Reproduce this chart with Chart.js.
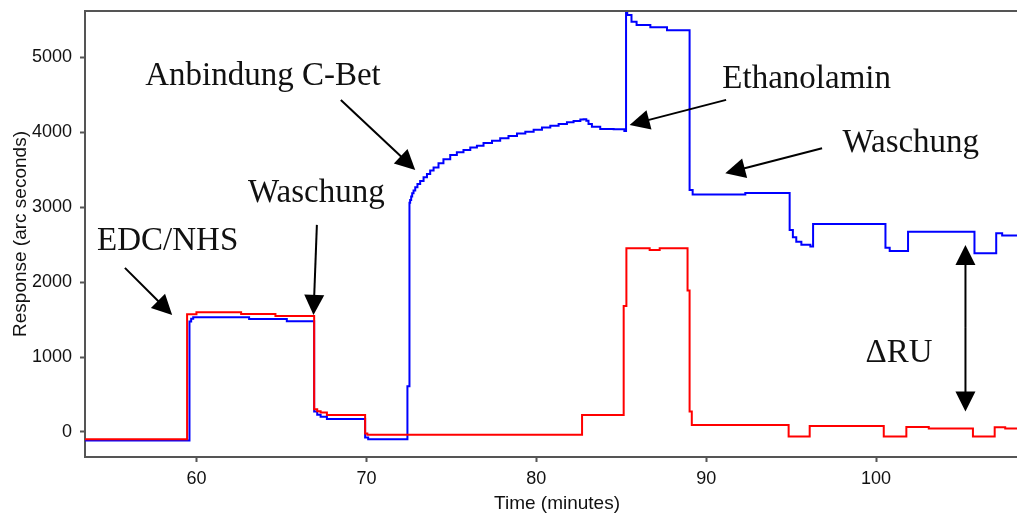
<!DOCTYPE html>
<html>
<head>
<meta charset="utf-8">
<title>Sensorgramm</title>
<script src="https://cdn.jsdelivr.net/npm/chart.js@4.4.1/dist/chart.umd.min.js"></script>
<style>
  html, body { margin: 0; padding: 0; background: #fff; overflow: hidden; }
  canvas { display: block; }
</style>
</head>
<body>
<canvas id="sensor" width="1030" height="515"></canvas>
<script>
// flow cell with immobilised C-Bet (blue), reference cell (red)
// each point: value holds from this time until the next point
const blueTime = [53.43, 59.58, 59.68, 59.8, 63.09, 65.31, 66.92, 67.1, 67.3, 67.67, 69.92, 70.1,
  72.41, 72.53, 72.57, 72.63, 72.69, 72.77, 72.87, 73.0, 73.16, 73.36, 73.56, 73.75, 73.95, 74.24,
  74.53, 74.93, 75.32, 75.71, 76.11, 76.5, 76.89, 77.39, 77.87, 78.36, 78.86, 79.35, 79.84, 80.33,
  80.82, 81.31, 81.8, 82.19, 82.59, 82.78, 82.94, 83.07, 83.27, 83.76, 84.55, 85.18,
  85.28, 85.35, 85.6, 85.9, 86.71, 87.69, 89.02, 89.2, 92.3,
  94.91, 95.1, 95.3, 95.6, 96.13, 96.29, 100.55, 100.8, 101.88, 105.79, 107.07, 107.42, 109];
const blueResp = [-116, 1473, 1510, 1531, 1509, 1478, 271, 230, 204, 174, -75, -98,
  610, 3060, 3097, 3142, 3187, 3222, 3267, 3311, 3351, 3400, 3445, 3489, 3529, 3587,
  3641, 3698, 3734, 3765, 3796, 3822, 3858, 3889, 3921, 3952, 3983, 4009, 4036, 4063,
  4089, 4112, 4135, 4152, 4170, 4175, 4156, 4112, 4076, 4045, 4041, 4019,
  5620, 5567, 5478, 5434, 5403, 5362, 3231, 3170, 3190,
  2697, 2600, 2540, 2500, 2474, 2777, 2460, 2417, 2674, 2386, 2652, 2621, 2621];

const redTime = [53.43, 59.44, 59.99, 62.62, 64.64, 66.92, 67.1, 67.3, 67.67, 69.92, 70.05,
  82.69, 85.14, 85.3, 86.67, 87.26, 88.9, 89.02, 89.15, 94.85, 96.09, 100.45, 101.78,
  103.1, 105.7, 106.98, 107.6, 109];
const redResp = [-98, 1572, 1598, 1575, 1549, 303, 275, 258, 227, -20, -38,
  227, 1682, 2452, 2430, 2452, 1887, 271, 93, -62, 80, -62, 67,
  45, -62, 62, 45, 45];

const xTicks = [60, 70, 80, 90, 100];
const yTicks = [0, 1000, 2000, 3000, 4000, 5000];

// labels and arrows, in minutes / response units
const notes = [
  { text: 'Anbindung C-Bet', t: 56.97, r: 4633 },
  { text: 'Ethanolamin', t: 90.95, r: 4593 },
  { text: 'Waschung', t: 98.02, r: 3738 },
  { text: 'Waschung', t: 63.03, r: 3071 },
  { text: 'EDC/NHS', t: 54.14, r: 2430 },
  { text: '\u0394RU', t: 99.37, r: 935 }
];
const arrows = [
  { from: [55.78, 2190], to: [58.56, 1562] },
  { from: [67.08, 2764], to: [66.88, 1562] },
  { from: [68.49, 4433], to: [72.87, 3498] },
  { from: [91.17, 4433], to: [85.49, 4099] },
  { from: [96.82, 3788], to: [91.12, 3454] },
  { from: [105.26, 1400], to: [105.26, 2497], both: [105.26, 271] }
];

function toPoints(ts, vs) {
  var pts = [];
  for (var i = 0; i < ts.length; i++) pts.push({ x: ts[i], y: vs[i] });
  return pts;
}

function head(ctx, x0, y0, x1, y1) {
  var a = Math.atan2(y1 - y0, x1 - x0);
  var len = 20, half = 10;
  ctx.beginPath();
  ctx.moveTo(x1, y1);
  ctx.lineTo(x1 - len * Math.cos(a) + half * Math.sin(a), y1 - len * Math.sin(a) - half * Math.cos(a));
  ctx.lineTo(x1 - len * Math.cos(a) - half * Math.sin(a), y1 - len * Math.sin(a) + half * Math.cos(a));
  ctx.closePath();
  ctx.fill();
}

function shaft(ctx, x0, y0, x1, y1) {
  var a = Math.atan2(y1 - y0, x1 - x0);
  ctx.beginPath();
  ctx.moveTo(x0, y0);
  ctx.lineTo(x1 - 18 * Math.cos(a), y1 - 18 * Math.sin(a));
  ctx.stroke();
}

const notesPlugin = {
  id: 'notes',
  afterDraw(chart) {
    const ctx = chart.ctx, xs = chart.scales.x, ys = chart.scales.y, area = chart.chartArea;
    ctx.save();
    // top frame line
    ctx.strokeStyle = '#555';
    ctx.lineWidth = 2;
    ctx.beginPath();
    ctx.moveTo(area.left - 1, area.top);
    ctx.lineTo(chart.width, area.top);
    ctx.stroke();

    ctx.fillStyle = '#111';
    ctx.font = '33px "Liberation Serif", serif';
    ctx.textAlign = 'left';
    ctx.textBaseline = 'alphabetic';
    notes.forEach(function (n) {
      ctx.fillText(n.text, xs.getPixelForValue(n.t), ys.getPixelForValue(n.r));
    });

    ctx.strokeStyle = '#000';
    ctx.fillStyle = '#000';
    ctx.lineWidth = 2;
    arrows.forEach(function (ar) {
      var x0 = xs.getPixelForValue(ar.from[0]), y0 = ys.getPixelForValue(ar.from[1]);
      var x1 = xs.getPixelForValue(ar.to[0]), y1 = ys.getPixelForValue(ar.to[1]);
      shaft(ctx, x0, y0, x1, y1);
      head(ctx, x0, y0, x1, y1);
      if (ar.both) {
        var x2 = xs.getPixelForValue(ar.both[0]), y2 = ys.getPixelForValue(ar.both[1]);
        shaft(ctx, x0, y0, x2, y2);
        head(ctx, x0, y0, x2, y2);
      }
    });
    ctx.restore();
  }
};

const tickFont = { family: '"Liberation Sans", Arial, sans-serif', size: 18 };
const titleFont = { family: '"Liberation Sans", Arial, sans-serif', size: 19 };

new Chart(document.getElementById('sensor'), {
  type: 'line',
  data: {
    datasets: [{
      label: 'Referenz',
      data: toPoints(redTime, redResp),
      borderColor: '#ff0000',
      borderWidth: 2,
      pointRadius: 0,
      stepped: true,
      fill: false
    }, {
      label: 'C-Bet',
      data: toPoints(blueTime, blueResp),
      borderColor: '#0000ff',
      borderWidth: 2,
      pointRadius: 0,
      stepped: true,
      fill: false
    }]
  },
  options: {
    responsive: false,
    animation: false,
    devicePixelRatio: 1,
    layout: { padding: { top: 11, right: 1, left: 0, bottom: 0 } },
    plugins: { legend: { display: false }, tooltip: { enabled: false } },
    scales: {
      x: {
        type: 'linear',
        min: 53.43,
        max: 109,
        afterBuildTicks: function (s) { s.ticks = xTicks.map(function (v) { return { value: v }; }); },
        afterFit: function (s) { s.height = 58; s.paddingLeft = 0; s.paddingRight = 0; },
        border: { display: true, color: '#555', width: 2 },
        grid: { drawOnChartArea: false, tickLength: 5, tickColor: '#555', tickWidth: 2 },
        ticks: { color: '#111', font: tickFont, padding: 6, maxRotation: 0, autoSkip: false },
        title: { display: true, text: 'Time (minutes)', color: '#111', font: titleFont, padding: { top: 0, bottom: 0 } }
      },
      y: {
        min: -335,
        max: 5620,
        afterBuildTicks: function (s) { s.ticks = yTicks.map(function (v) { return { value: v }; }); },
        afterFit: function (s) { s.width = 85; s.paddingTop = 0; s.paddingBottom = 0; },
        border: { display: true, color: '#555', width: 2 },
        grid: { drawOnChartArea: false, tickLength: 5, tickColor: '#555', tickWidth: 2 },
        ticks: {
          color: '#111', font: tickFont, padding: 8,
          callback: function (v) { return String(v); }
        },
        title: { display: true, text: 'Response (arc seconds)', color: '#111', font: titleFont, padding: { top: 9, bottom: 0 } }
      }
    }
  },
  plugins: [notesPlugin]
});
</script>
</body>
</html>
